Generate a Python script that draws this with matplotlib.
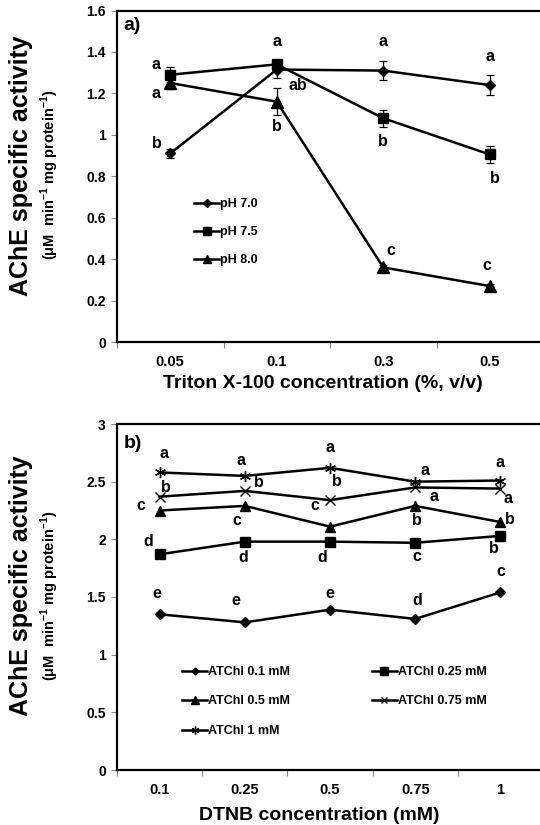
import matplotlib
matplotlib.use("Agg")
import matplotlib.pyplot as plt
from matplotlib.ticker import FixedLocator
from matplotlib.lines import Line2D

plt.rcParams['font.family'] = ['Liberation Sans', 'DejaVu Sans']
plt.rcParams['font.weight'] = 'bold'
plt.rcParams['mathtext.fontset'] = 'custom'
plt.rcParams['mathtext.bf'] = 'Liberation Sans:bold'
plt.rcParams['mathtext.rm'] = 'Liberation Sans:bold'

# ---------- Panel a data ----------
triton_labels = ['0.05', '0.1', '0.3', '0.5']
ph70 = [0.91, 1.315, 1.31, 1.24]
ph70_err = [0.02, 0.04, 0.045, 0.05]
ph75 = [1.29, 1.34, 1.08, 0.905]
ph75_err = [0.035, 0.02, 0.04, 0.04]
ph80 = [1.25, 1.16, 0.36, 0.27]
ph80_err = [0.03, 0.065, 0.01, 0.01]
ph70_letters = ['b', 'a', 'a', 'a']
ph75_letters = ['a', 'ab', 'b', 'b']
ph80_letters = ['a', 'b', 'c', 'c']

# ---------- Panel b data ----------
dtnb_labels = ['0.1', '0.25', '0.5', '0.75', '1']
atc01 = [1.35, 1.28, 1.39, 1.31, 1.54]
atc025 = [1.87, 1.98, 1.98, 1.97, 2.03]
atc05 = [2.25, 2.29, 2.11, 2.29, 2.15]
atc075 = [2.37, 2.42, 2.34, 2.45, 2.44]
atc1 = [2.58, 2.55, 2.62, 2.50, 2.51]
atc01_letters = ['e', 'e', 'e', 'd', 'c']
atc025_letters = ['d', 'd', 'd', 'c', 'b']
atc05_letters = ['c', 'c', 'c', 'b', 'b']
atc075_letters = ['b', 'b', 'b', 'a', 'a']
atc1_letters = ['a', 'a', 'a', 'a', 'a']

W, H = 540, 825
fig = plt.figure(figsize=(W / 100, H / 100), dpi=100)

def fx(px):
    return px / W

def fy(py):
    return 1 - py / H

L, R = 117, 543
axa = fig.add_axes([fx(L), fy(342), fx(R - L), (342 - 10.5) / H])
axb = fig.add_axes([fx(L), fy(770), fx(R - L), (770 - 424) / H])

def fmt(v):
    s = ('%.1f' % v)
    if s.endswith('.0'):
        s = s[:-2]
    return s

def style(ax, n, labels, ymax, ystep):
    for s in ax.spines.values():
        s.set_linewidth(1.6)
        s.set_color('black')
    ax.set_xlim(-0.5, n - 0.5)
    ax.set_ylim(0, ymax)
    ax.set_xticks(range(n))
    ax.set_xticklabels(labels, fontsize=10.5, fontweight='bold')
    ax.tick_params(axis='x', which='major', length=0, pad=9)
    ax.xaxis.set_minor_locator(FixedLocator([i - 0.5 for i in range(n)]))
    ax.tick_params(axis='x', which='minor', length=4, width=0.8, color='#888888', direction='out')
    yt = [round(i * ystep, 2) for i in range(int(round(ymax / ystep)) + 1)]
    ax.set_yticks(yt)
    ax.set_yticklabels([fmt(v) for v in yt], fontsize=10, fontweight='bold')
    ax.tick_params(axis='y', length=4, width=0.8, color='#888888', direction='out', pad=4)

style(axa, 4, triton_labels, 1.6, 0.2)
style(axb, 5, dtnb_labels, 3.0, 0.5)

xa = list(range(4))
xb = list(range(5))
lw = 1.8
ek = dict(ecolor='black', elinewidth=0.9, capsize=3, capthick=0.9)
series_a = [(ph70, ph70_err, 'D', 5.5, 'pH 7.0'),
            (ph75, ph75_err, 's', 7.5, 'pH 7.5'),
            (ph80, ph80_err, '^', 8, 'pH 8.0')]
handles_a = []
for vals, errs, mk, ms, name in series_a:
    axa.errorbar(xa, vals, yerr=errs, color='black', lw=lw, marker=mk, ms=ms, **ek)
    handles_a.append(Line2D([], [], color='black', lw=lw, marker=mk, ms=ms, label=name))

tk = dict(fontsize=11.5, fontweight='bold', ha='center', va='center')
def lab(ax, x, y, s):
    ax.text(x, y, s, **tk)

# pH 7.0
lab(axa, -0.13, 0.96, ph70_letters[0])
lab(axa, 1.0, 1.45, ph70_letters[1])
lab(axa, 2.0, 1.45, ph70_letters[2])
lab(axa, 3.0, 1.38, ph70_letters[3])
# pH 7.5
lab(axa, -0.13, 1.34, ph75_letters[0])
lab(axa, 1.2, 1.24, ph75_letters[1])
lab(axa, 2.0, 0.97, ph75_letters[2])
lab(axa, 3.05, 0.79, ph75_letters[3])
# pH 8.0
lab(axa, -0.13, 1.20, ph80_letters[0])
lab(axa, 1.0, 1.04, ph80_letters[1])
lab(axa, 2.07, 0.44, ph80_letters[2])
lab(axa, 2.97, 0.37, ph80_letters[3])

axa.text(0.015, 0.955, 'a)', transform=axa.transAxes, fontsize=14, fontweight='bold', ha='left', va='center')

axa.legend(handles=handles_a, loc='upper left',
           bbox_to_anchor=(fx(194 - L) / fx(R - L), (342 - 198) / (342 - 10.5)),
           frameon=False, handlelength=2.0, handletextpad=0.1, labelspacing=1.3, markerscale=0.7,
           prop={'weight': 'bold', 'size': 9}, borderaxespad=0, borderpad=0)

# panel b
h01, = axb.plot(xb, atc01, color='black', lw=lw, marker='D', ms=5, label='ATChl 0.1 mM')
h025, = axb.plot(xb, atc025, color='black', lw=lw, marker='s', ms=7.5, label='ATChl 0.25 mM')
h05, = axb.plot(xb, atc05, color='black', lw=lw, marker='^', ms=7.5, label='ATChl 0.5 mM')
h075, = axb.plot(xb, atc075, color='black', lw=lw, marker='x', ms=7, mew=1.0, label='ATChl 0.75 mM')
h1, = axb.plot(xb, atc1, color='black', lw=lw, marker=(6, 2, 0), ms=8, mew=1.0, label='ATChl 1 mM')

b_pos_1 = [(0.05, 2.74), (-0.05, 2.68), (0.0, 2.8), (0.12, 2.60), (0.0, 2.67)]
b_pos_075 = [(0.07, 2.45), (0.17, 2.49), (0.08, 2.50), (0.22, 2.37), (0.09, 2.35)]
b_pos_05 = [(-0.22, 2.29), (-0.09, 2.16), (-0.18, 2.29), (0.02, 2.16), (0.11, 2.17)]
b_pos_025 = [(-0.13, 1.98), (-0.02, 1.84), (-0.09, 1.84), (0.02, 1.85), (-0.08, 1.92)]
b_pos_01 = [(-0.03, 1.53), (-0.1, 1.47), (0.0, 1.53), (0.02, 1.47), (0.0, 1.72)]
for i in range(5):
    lab(axb, i + b_pos_1[i][0], b_pos_1[i][1], atc1_letters[i])
    lab(axb, i + b_pos_075[i][0], b_pos_075[i][1], atc075_letters[i])
    lab(axb, i + b_pos_05[i][0], b_pos_05[i][1], atc05_letters[i])
    lab(axb, i + b_pos_025[i][0], b_pos_025[i][1], atc025_letters[i])
    lab(axb, i + b_pos_01[i][0], b_pos_01[i][1], atc01_letters[i])

axb.text(0.015, 0.945, 'b)', transform=axb.transAxes, fontsize=14, fontweight='bold', ha='left', va='center')

handles = [h01, h05, h1, h025, h075]
axb.legend(handles=handles, labels=[h.get_label() for h in handles],
           loc='upper left', bbox_to_anchor=(fx(182 - L) / fx(R - L), (770 - 666) / (770 - 424)),
           frameon=False, ncol=2, handlelength=2.0, handletextpad=0.1, labelspacing=1.4,
           columnspacing=6.5, markerscale=0.7, prop={'weight': 'bold', 'size': 9},
           borderaxespad=0, borderpad=0)

# axis titles
for ax, top, bot in [(axa, 10.5, 342), (axb, 424, 770)]:
    fig.text(fx(21), fy((top + bot) / 2 - 11), 'AChE specific activity', rotation=90, fontsize=18,
             fontweight='bold', ha='center', va='center')
    fig.text(fx(50), fy((top + bot) / 2 - 1), r'(μM  min$^{\mathbf{-1}}$ mg protein$^{\mathbf{-1}}$)',
             rotation=90, fontsize=10.5, fontweight='bold', ha='center', va='center')

fig.text(fx(323), fy(383), 'Triton X-100 concentration (%, v/v)', fontsize=14, fontweight='bold',
         ha='center', va='center')
fig.text(fx(319), fy(815), 'DTNB concentration (mM)', fontsize=14, fontweight='bold',
         ha='center', va='center')

fig.savefig('out.png', dpi=100)
